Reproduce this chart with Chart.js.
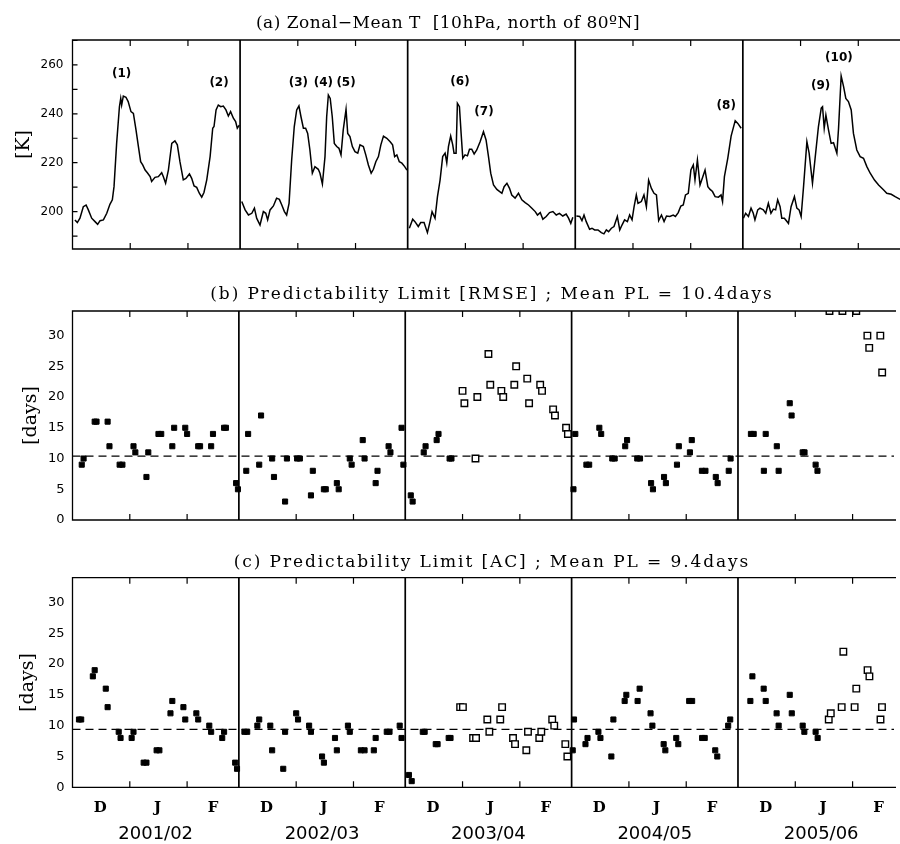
<!DOCTYPE html>
<html>
<head>
<meta charset="utf-8">
<script src="https://cdn.jsdelivr.net/npm/chart.js@4.4.1/dist/chart.umd.min.js"></script>
<style>
  html, body { margin: 0; padding: 0; background: #fff; overflow: hidden; }
  .panel { position: absolute; left: 0; width: 900px; }
</style>
</head>
<body>
<div class="panel" style="top:0;height:270px"><canvas id="tempChart"></canvas></div>
<div class="panel" style="top:270px;height:266px"><canvas id="rmseChart"></canvas></div>
<div class="panel" style="top:530px;height:314px"><canvas id="acChart"></canvas></div>
<script>
// x axis = days since 1 Dec, 90 days per winter, winters placed end to end
const SEASON_LEN = 90;
const X_MAX = 444.4;
const seasons = ['2001/02', '2002/03', '2003/04', '2004/05', '2005/06'];
const monthLabels = ['D', 'J', 'F'];
const monthLabelDays = [15, 46, 76];
const monthStartDays = [31, 62];
const seasonLabelDay = 45;

// (a) zonal-mean temperature, 10hPa north of 80N
const tempDay = [
  1.3, 2.6, 4, 5.8, 7.3, 8.5, 10.3, 12.1, 13.5, 14.8, 16.6, 18.4, 20.1, 21.4, 22.3, 23.7, 25.2, 25.9, 26.4, 27.3,
  28.7, 29.9, 31.4, 32.7, 34.1, 35.4, 36.6, 37.7, 39, 40.2, 41.7, 42.5, 44.3, 46.1, 47.9, 48.8, 50, 51.5, 53.3, 55,
  56.3, 57.7, 59.5, 60.9, 62.8, 64, 65.3, 66.7, 68.1, 69.4, 70.6, 72.1, 73.9, 75.3, 76, 77.1, 78.3, 79.6, 81, 82.4,
  83.7, 84.9, 86.4, 87.6, 88.5, 89.6,
  90.9, 92.7, 94.5, 96.3, 97.7, 98.9, 100.7, 102.5, 103.8, 104.8, 106.1, 107.9, 109.6, 111.1, 112.4, 113.8, 115, 116.3, 117.7, 119.1,
  120.4, 121.6, 122.7, 124, 125.2, 126.3, 127.5, 128.8, 130.2, 132, 132.9, 134.2, 135.6, 136.5, 137.4, 138.4, 139.5, 140.6, 141.9, 143.1,
  144.2, 145.4, 146.9, 147.8, 149, 150.3, 151.7, 153.2, 154.4, 156.2, 157.5, 158.9, 160.4, 161.6, 162.9, 164.3, 165.6, 167, 168.8, 170.6,
  171.9, 173, 174.2, 175.5, 176.9, 178.4, 179.6,
  180.9, 182.7, 183.9, 185.7, 187, 188.8, 190.6, 192, 193.1, 194.7, 196, 197.4, 198.8, 200.1, 201, 201.9, 203.1, 204.2, 204.9, 206,
  206.7, 207.8, 208.7, 209.6, 210.8, 212.1, 213.2, 214.4, 215.7, 217.1, 218.9, 220.7, 222.1, 223.4, 224.6, 226.1, 227.9, 230.6, 231.8, 233.3,
  234.7, 235.9, 237.7, 239.5, 241.3, 243.1, 244.9, 246.7, 248.5, 249.7, 251.2, 252.6, 254.4, 256.2, 258, 259.8, 261.5, 263.3, 265.1, 266.4,
  267.6, 268.7,
  270.6, 272.4, 273.6, 274.7, 275.9, 277.7, 279, 280.4, 282.2, 284, 285.4, 286.7, 287.9, 289.4, 290.8, 292.6, 293.9, 295.1, 296.5, 298,
  299.2, 300.5, 301.6, 302.8, 303.7, 305.5, 306.9, 308.2, 309.4, 310.9, 312.3, 313.6, 314.8, 316.3, 317.7, 319, 320.8, 322.6, 323.8, 325.3,
  326.7, 328, 329.2, 330.7, 332.1, 333.4, 334.3, 335.6, 337, 338.5, 339.7, 341.2, 342.4, 343.7, 345.1, 346.9, 348.3, 349.1, 350.1, 351.9,
  353.7, 355.9, 357.3, 359.1,
  360.3, 361.5, 363, 364.4, 365.6, 366.5, 368, 369.2, 371, 372.3, 373.7, 375.1, 376.4, 377.6, 378.7, 380, 380.9, 382.3, 384.5, 385.9,
  387.7, 389, 390.2, 391.3, 392.6, 394.4, 395.6, 397.4, 398.8, 400.6, 402.1, 402.8, 403.7, 404.6, 406, 407.4, 408.7, 410.5, 411.4, 412.8,
  414.1, 415.3, 416.7, 418.2, 419.4, 421.2, 423, 424.8, 426.6, 428.4, 430.7, 432.9, 435.5, 437.3, 439.7, 441.8, 444.5, 448
];
const tempK = [
  196.6, 195.5, 197.3, 202, 202.7, 200.7, 197.3, 195.9, 194.8, 196.3, 196.6, 199.3, 203, 204.8, 210.2, 227.9, 242.9, 246.3, 243.6, 247.3,
  246.8, 245, 240.9, 240.2, 233.4, 226.6, 220.4, 219.1, 217, 215.9, 214.3, 212.3, 214, 214.3, 215.9, 214.3, 211.6, 217, 227.9, 228.9,
  227.3, 220.4, 213, 213.6, 215.4, 213.6, 210.5, 209.9, 207.5, 205.9, 207.8, 213, 222.5, 234.1, 234.8, 241.6, 243.6, 242.9, 243.2, 241.6,
  239.1, 240.9, 238.2, 236.8, 234.1, 235.4,
  204.1, 200.7, 198.6, 199.3, 201.4, 197.3, 194.5, 200, 199.3, 196.6, 200.7, 202.3, 205.5, 205, 202.7, 200, 198.6, 203.4, 221.1, 234.8,
  241.6, 243.2, 238.8, 234.1, 234.1, 232, 225.2, 215.7, 218.4, 217.3, 215.7, 211.3, 222.5, 238.8, 247.7, 246.3, 238.8, 227.9, 226.6, 225.9,
  223.2, 233.4, 241.8, 232, 230.7, 226.6, 224.5, 223.9, 227.3, 226.6, 223.2, 219.1, 215.7, 217.3, 220.4, 222.5, 227.3, 230.9, 230, 228.6,
  227.3, 222.5, 223.2, 220.4, 219.8, 218.4, 217,
  193.2, 196.9, 195.9, 193.9, 195.5, 195.5, 191.4, 195.9, 200, 197.3, 206.1, 212.9, 222.5, 223.9, 220, 226.6, 230.9, 227.3, 223.9, 223.9,
  244.3, 242.9, 232, 221.8, 223.2, 222.8, 225.5, 225.5, 223.6, 225.2, 228.6, 232.7, 229.3, 222.5, 215.7, 210.9, 209.1, 207.5, 210.2, 211.6,
  209.5, 206.8, 205.5, 207.5, 204.8, 203.7, 202.7, 201.4, 200, 198.6, 199.6, 196.9, 198, 199.6, 200, 198.6, 199.3, 198.2, 199, 197.3,
  195.2, 197.7,
  198.2, 198, 196.3, 198.6, 195.9, 192.8, 193.2, 192.5, 192.5, 191.4, 190.9, 192.5, 191.8, 193.2, 193.9, 198, 192.5, 194.5, 196.6, 195.9,
  198.6, 196.6, 202, 206.8, 203.4, 204.1, 206.8, 202, 212.9, 209.5, 207.5, 206.8, 196.3, 198.6, 195.9, 198.2, 198, 198.6, 198, 199.6,
  202.3, 202.7, 206.8, 207.5, 217, 219.1, 212.9, 221.1, 210.9, 214.3, 217, 210.2, 209.1, 208.2, 206.1, 205.9, 206.8, 204.1, 214.3, 221.8,
  230.9, 237.2, 236.1, 234.1,
  197.3, 199.3, 198, 201.4, 199.3, 196.6, 200.7, 201.4, 200.7, 199.3, 203.4, 199.3, 201, 200.7, 204.8, 202, 197.3, 197.3, 195.2, 202,
  206.1, 201.4, 200.7, 198, 210.2, 228.6, 223.9, 211.6, 221.8, 234.8, 242.3, 242.9, 234.1, 239.5, 233.4, 227.9, 228.2, 223.9, 234.1, 255.5,
  251.1, 246.3, 245, 241.6, 232, 225.2, 222.5, 221.8, 218.4, 215.7, 212.9, 210.9, 208.9, 207.5, 207.1, 206.1, 205, 204.3
];
const eventLabels = ['(1)', '(2)', '(3)', '(4)', '(5)', '(6)', '(7)', '(8)', '(9)', '(10)'];
const eventDay = [26.4, 78.7, 121.3, 134.7, 146.9, 208.1, 221, 351.1, 401.8, 411.6];
const eventK = [256.2, 252.5, 252.8, 252.8, 252.8, 253.2, 240.9, 243.2, 251.4, 262.7];
const tempTicks = [190, 200, 210, 220, 230, 240, 250, 260, 270];
const tempTickLabels = [200, 220, 240, 260];

// (b) predictability limit, RMSE (filled = normal, open = disturbed)
const RMSE_MEAN = 10.4;
const rmseDay = [
  5, 6, 12, 13, 19, 20, 25.5, 27, 33, 34, 40, 41, 46.5, 48, 54, 55, 61, 62, 68, 69, 75, 76, 82, 83, 88.5, 89.5,
  94, 95, 101, 102, 108, 109, 115, 116, 121.5, 123, 129, 130, 136, 137, 143, 144, 150, 151, 157, 158, 164, 165, 171, 172, 178, 179,
  183, 184, 190, 191, 197, 198, 204, 205,
  271, 272, 278, 279.5, 285, 286, 292, 293.3, 299, 300, 305.5, 307, 313, 314, 320, 321, 327, 328, 334, 335, 340.5, 342.4, 348, 349, 355, 356,
  367, 368.5, 374, 375, 381, 382, 388, 389, 395, 396, 402, 403
];
const rmseVal = [
  9, 10, 16, 16, 16, 12, 9, 9, 12, 11, 7, 11, 14, 14, 12, 15, 15, 14, 12, 12, 12, 14, 15, 15, 6, 5,
  8, 14, 9, 17, 10, 7, 3, 10, 10, 10, 4, 8, 5, 5, 6, 5, 10, 9, 13, 10, 6, 8, 12, 11, 15, 9,
  4, 3, 11, 12, 13, 14, 10, 10,
  5, 14, 9, 9, 15, 14, 10, 10, 12, 13, 10, 10, 6, 5, 7, 6, 9, 12, 11, 13, 8, 8, 7, 6, 8, 10,
  14, 14, 8, 14, 12, 8, 19, 17, 11, 11, 9, 8
];
const rmseOpenDay = [211, 212, 218, 219, 225, 226, 232, 233, 239, 240, 246, 247, 253, 254, 260, 261, 267, 268,
  409.5, 416.5, 424, 430, 431, 437, 438];
const rmseOpenVal = [21, 19, 10, 20, 27, 22, 21, 20, 22, 25, 23, 19, 22, 21, 18, 17, 15, 14,
  34, 34, 34, 30, 28, 30, 24];

// (c) predictability limit, anomaly correlation
const AC_MEAN = 9.4;
const acDay = [
  3.5, 4.7, 11, 12, 18, 19, 25, 26, 32, 33, 38.5, 40, 45.5, 47, 53, 54, 60, 61, 67, 68, 74, 75, 81, 82, 88, 89,
  93, 94.5, 100, 101, 107, 108, 114, 115, 121, 122, 128, 129, 135, 136, 142, 143, 149, 150, 156, 158, 163, 164, 170, 171.5, 177, 178,
  182, 183.5, 189.5, 190.5, 196.5, 197.5, 203.5, 204.5,
  270.6, 271.3, 277.5, 278.6, 284.5, 285.6, 291.5, 292.6, 298.7, 299.6, 305.7, 306.8, 312.7, 313.7, 319.8, 320.7, 326.6, 327.7, 333.6, 335.2,
  340.6, 342, 347.7, 348.8, 354.7, 355.8,
  366.7, 367.8, 373.9, 375, 380.9, 382, 388, 389.1, 395, 395.9, 402, 403.1
];
const acVal = [
  11, 11, 18, 19, 16, 13, 9, 8, 8, 9, 4, 4, 6, 6, 12, 14, 13, 11, 12, 11, 10, 9, 8, 9, 4, 3,
  9, 9, 10, 11, 10, 6, 3, 9, 12, 11, 10, 9, 5, 4, 8, 6, 10, 9, 6, 6, 6, 8, 9, 9, 10, 8,
  2, 1, 9, 9, 7, 7, 8, 8,
  6, 11, 7, 8, 9, 8, 5, 11, 14, 15, 14, 16, 12, 10, 7, 6, 8, 7, 14, 14,
  8, 8, 6, 5, 10, 11,
  14, 18, 16, 14, 12, 10, 15, 12, 10, 9, 9, 8
];
const acOpenDay = [209.7, 211.2, 216.7, 218.3, 224.4, 225.5, 231.4, 232.4, 238.3, 239.4, 245.5, 246.4, 252.5, 253.6, 259.5, 260.6, 266.6, 267.7,
  409.1, 410.2, 416.1, 417, 423.1, 424, 430.1, 431.1, 437.1, 437.9];
const acOpenVal = [13, 13, 8, 8, 11, 9, 11, 13, 8, 7, 6, 9, 8, 9, 11, 10, 7, 5,
  11, 12, 13, 22, 13, 16, 19, 18, 11, 13];
const daysTicks = [0, 5, 10, 15, 20, 25, 30];

Chart.defaults.font.family = '"DejaVu Sans", sans-serif';
Chart.defaults.color = '#000';

const pts = (xs, ys) => xs.map((d, i) => ({ x: d, y: ys[i] }));

// break the temperature line between winters
const tempPoints = [];
tempDay.forEach((d, i) => {
  if (i > 0 && Math.floor(d / SEASON_LEN) !== Math.floor(tempDay[i - 1] / SEASON_LEN)) {
    tempPoints.push({ x: d, y: null });
  }
  tempPoints.push({ x: d, y: tempK[i] });
});

// frame, winter dividers, inward ticks, panel title and event labels
const framePlugin = {
  id: 'frame',
  afterDatasetsDraw(chart, args, opts) {
    const { ctx, chartArea: a, scales: { x, y } } = chart;
    ctx.save();
    ctx.strokeStyle = '#000';
    ctx.lineWidth = 1.3;
    ctx.beginPath();
    ctx.moveTo(a.right + 2, a.top);
    ctx.lineTo(a.left, a.top);
    ctx.lineTo(a.left, a.bottom);
    ctx.lineTo(a.right + 2, a.bottom);
    ctx.stroke();

    ctx.lineWidth = 1.7;
    ctx.beginPath();
    seasons.forEach((s, i) => {
      if (i === 0) return;
      const px = x.getPixelForValue(i * SEASON_LEN);
      ctx.moveTo(px, a.top);
      ctx.lineTo(px, a.bottom);
    });
    ctx.stroke();

    ctx.lineWidth = 1.2;
    ctx.beginPath();
    seasons.forEach((s, i) => {
      monthStartDays.forEach(d => {
        const px = x.getPixelForValue(i * SEASON_LEN + d);
        ctx.moveTo(px, a.top);
        ctx.lineTo(px, a.top + 6);
        ctx.moveTo(px, a.bottom);
        ctx.lineTo(px, a.bottom - 6);
      });
    });
    if (opts.yTickMarks) {
      y.ticks.forEach(t => {
        const py = y.getPixelForValue(t.value);
        ctx.moveTo(a.left, py);
        ctx.lineTo(a.left + 5, py);
      });
    }
    ctx.stroke();

    ctx.fillStyle = '#000';
    ctx.textAlign = 'center';
    ctx.textBaseline = 'alphabetic';
    ctx.font = '17px "DejaVu Serif"';
    ctx.letterSpacing = opts.titleSpacing;
    ctx.fillText(opts.title, opts.titleX, opts.titleY);
    ctx.letterSpacing = '0px';

    if (opts.events) {
      ctx.font = 'bold 12px "DejaVu Sans"';
      ctx.textBaseline = 'middle';
      eventLabels.forEach((lab, i) => {
        ctx.fillText(lab, x.getPixelForValue(eventDay[i]), y.getPixelForValue(eventK[i]));
      });
    }
    ctx.restore();
  }
};

const monthTicks = [];
seasons.forEach((s, i) => monthLabelDays.forEach(d => monthTicks.push({ value: i * SEASON_LEN + d })));

const xAxis = (showLabels, height) => ({
  type: 'linear',
  min: 0,
  max: X_MAX,
  weight: 0,
  afterBuildTicks: s => { s.ticks = showLabels ? monthTicks.map(t => ({ value: t.value })) : []; },
  afterFit: s => { s.height = height; },
  grid: { display: false, drawTicks: false },
  border: { display: false },
  ticks: {
    display: showLabels,
    autoSkip: false,
    maxRotation: 0,
    padding: 12,
    font: { family: '"DejaVu Serif"', size: 15, weight: 'bold' },
    callback: (v, i) => monthLabels[i % monthLabels.length]
  }
});

const seasonAxis = {
  type: 'linear',
  position: 'bottom',
  min: 0,
  max: X_MAX,
  weight: 1,
  afterBuildTicks: s => { s.ticks = seasons.map((n, i) => ({ value: i * SEASON_LEN + seasonLabelDay })); },
  afterFit: s => { s.height = 26.7; },
  grid: { display: false, drawTicks: false },
  border: { display: false },
  ticks: {
    autoSkip: false,
    maxRotation: 0,
    padding: 6,
    font: { size: 18 },
    callback: (v, i) => seasons[i]
  }
};

const yAxis = (min, max, tickValues, labelFn, title, titlePad, fontSize, pad) => ({
  type: 'linear',
  min: min,
  max: max,
  afterBuildTicks: s => { s.ticks = tickValues.map(v => ({ value: v })); },
  afterFit: s => { s.width = 72.5; },
  grid: { display: false, drawTicks: false },
  border: { display: false },
  ticks: { padding: pad, font: { size: fontSize }, callback: labelFn },
  title: {
    display: true,
    text: title,
    font: { family: '"DejaVu Serif"', size: 19 },
    padding: { top: titlePad, bottom: 0 }
  }
});

const baseOptions = (padTop) => ({
  responsive: true,
  maintainAspectRatio: false,
  animation: false,
  events: [],
  layout: { padding: { top: padTop, left: 0, right: 0, bottom: 0 } },
  plugins: { legend: { display: false }, tooltip: { enabled: false } }
});

// (a) temperature
const tempOptions = baseOptions(40);
tempOptions.scales = {
  x: xAxis(false, 21),
  y: yAxis(184.7, 270.2, tempTicks, v => (tempTickLabels.includes(v) ? v : ''), '[K]', 12.5, 12, 9)
};
tempOptions.plugins.frame = {
  title: '(a) Zonal\u2212Mean T  [10hPa, north of 80\u00baN]',
  titleX: 448, titleY: 27.5, titleSpacing: '0.5px', yTickMarks: true, events: true
};
new Chart(document.getElementById('tempChart').getContext('2d'), {
  type: 'line',
  data: {
    datasets: [{
      data: tempPoints,
      borderColor: '#000',
      borderWidth: 1.5,
      pointRadius: 0,
      tension: 0,
      spanGaps: false
    }]
  },
  options: tempOptions,
  plugins: [framePlugin]
});

// (b) and (c) scatter panels
const plDatasets = (fDay, fVal, oDay, oVal, mean) => [
  {
    data: pts(fDay, fVal),
    pointStyle: 'rect',
    pointRadius: 3.6,
    backgroundColor: '#000',
    borderColor: '#000',
    borderWidth: 1,
    order: 1
  },
  {
    data: pts(oDay, oVal),
    pointStyle: 'rect',
    pointRadius: 4.6,
    backgroundColor: '#fff',
    borderColor: '#000',
    borderWidth: 1.4,
    clip: { left: 5, top: 0, right: 5, bottom: 5 },
    order: 1
  },
  {
    type: 'line',
    data: [{ x: 0, y: mean }, { x: X_MAX, y: mean }],
    borderColor: '#000',
    borderWidth: 1.3,
    borderDash: [8, 5],
    pointRadius: 0,
    order: 3
  }
];

const rmseOptions = baseOptions(41);
rmseOptions.scales = {
  x: xAxis(false, 16),
  y: yAxis(0, 34, daysTicks, v => v, '[days]', 19.5, 13, 8)
};
rmseOptions.plugins.frame = {
  title: '(b) Predictability Limit [RMSE] ; Mean PL = ' + RMSE_MEAN + 'days',
  titleX: 492, titleY: 29.3, titleSpacing: '1.9px', yTickMarks: false, events: false
};
new Chart(document.getElementById('rmseChart').getContext('2d'), {
  type: 'scatter',
  data: { datasets: plDatasets(rmseDay, rmseVal, rmseOpenDay, rmseOpenVal, RMSE_MEAN) },
  options: rmseOptions,
  plugins: [framePlugin]
});

const acOptions = baseOptions(47.7);
acOptions.scales = {
  x: xAxis(true, 30),
  x2: seasonAxis,
  y: yAxis(0, 34, daysTicks, v => v, '[days]', 17, 13, 8)
};
acOptions.plugins.frame = {
  title: '(c) Predictability Limit [AC] ; Mean PL = ' + AC_MEAN + 'days',
  titleX: 492, titleY: 37.3, titleSpacing: '1.9px', yTickMarks: false, events: false
};
new Chart(document.getElementById('acChart').getContext('2d'), {
  type: 'scatter',
  data: { datasets: plDatasets(acDay, acVal, acOpenDay, acOpenVal, AC_MEAN) },
  options: acOptions,
  plugins: [framePlugin]
});
</script>
</body>
</html>
